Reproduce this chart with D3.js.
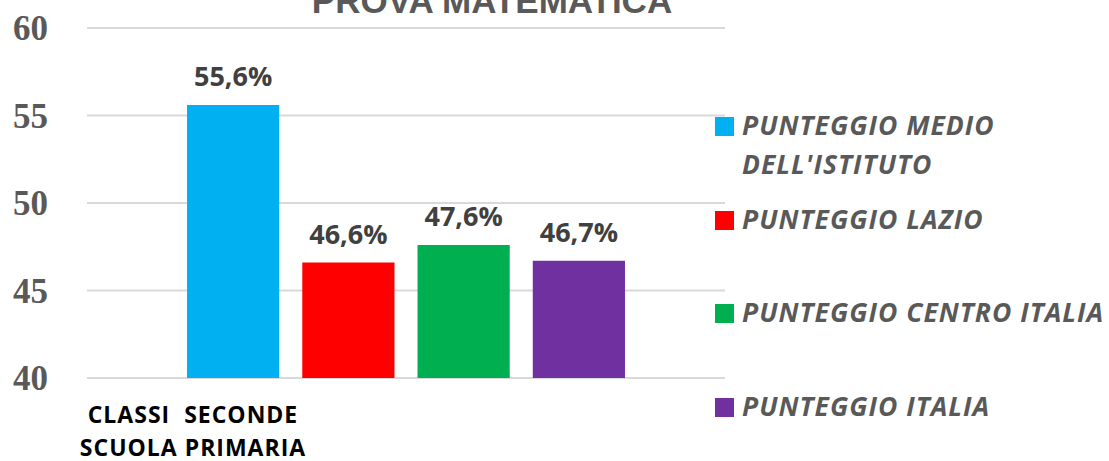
<!DOCTYPE html>
<html>
<head>
<meta charset="utf-8">
<script src="https://cdn.jsdelivr.net/npm/d3@7"></script>
<style>
  body { margin: 0; background: #fff; }
  svg { display: block; }
</style>
</head>
<body>
<div id="chart"></div>
<script>
var width = 1109, height = 461;

// data
var series = ["PUNTEGGIO MEDIO DELL'ISTITUTO", "PUNTEGGIO LAZIO", "PUNTEGGIO CENTRO ITALIA", "PUNTEGGIO ITALIA"];
var values = [55.6, 46.6, 47.6, 46.7];
var colors = ["#00B0F0", "#FF0000", "#00B050", "#7030A0"];
var valueLabels = ["55,6%", "46,6%", "47,6%", "46,7%"];
var yTicks = [40, 45, 50, 55, 60];
var categoryLines = ["CLASSI  SECONDE", "SCUOLA PRIMARIA"];
var legendLines = [["PUNTEGGIO MEDIO", "DELL'ISTITUTO"], ["PUNTEGGIO LAZIO"], ["PUNTEGGIO CENTRO ITALIA"], ["PUNTEGGIO ITALIA"]];
var title = "PROVA MATEMATICA";

var svg = d3.select("#chart")
  .append("svg")
  .attr("width", width)
  .attr("height", height);

var y = d3.scaleLinear()
  .domain([40, 60])
  .range([378, 28]);

var x = d3.scaleBand()
  .domain(series)
  .range([175.5, 636.5])
  .paddingInner(0.2)
  .paddingOuter(0.1);

// griglia
svg.append("g")
  .selectAll("line")
  .data(yTicks).enter()
  .append("line")
  .attr("x1", 87)
  .attr("x2", 725)
  .attr("y1", function(d) { return y(d); })
  .attr("y2", function(d) { return y(d); })
  .attr("stroke", "#d9d9d9")
  .attr("stroke-width", 2);

// asse y
var yAxis = svg.append("g")
  .attr("transform", "translate(48,0)")
  .call(d3.axisLeft(y).tickValues(yTicks).tickSize(0).tickPadding(0));
yAxis.select(".domain").remove();
yAxis.selectAll("text")
  .attr("dy", "0.33em")
  .style("font-family", "'Liberation Serif', serif")
  .style("font-weight", "bold")
  .style("font-size", "35px")
  .style("fill", "#595959");

// titolo
svg.append("text")
  .attr("x", 492)
  .attr("y", 13)
  .attr("text-anchor", "middle")
  .style("font-family", "'Liberation Sans', Arial, sans-serif")
  .style("font-weight", "bold")
  .style("font-size", "35px")
  .style("fill", "#595959")
  .text(title);

// barre
svg.selectAll(".bar")
  .data(values).enter()
  .append("rect")
  .attr("class", "bar")
  .attr("x", function(d, i) { return x(series[i]); })
  .attr("width", x.bandwidth())
  .attr("y", function(d) { return y(d); })
  .attr("height", function(d) { return y(40) - y(d); })
  .attr("fill", function(d, i) { return colors[i]; });

// etichette valori
svg.selectAll(".val")
  .data(values).enter()
  .append("text")
  .attr("class", "val")
  .attr("x", function(d, i) { return x(series[i]) + x.bandwidth() / 2; })
  .attr("y", function(d) { return y(d) - 19; })
  .attr("text-anchor", "middle")
  .style("font-family", "'Open Sans', sans-serif")
  .style("font-weight", "bold")
  .style("font-size", "27px")
  .style("fill", "#404040")
  .text(function(d, i) { return valueLabels[i]; });

// etichetta categoria
svg.append("text")
  .attr("x", 193)
  .attr("y", 423)
  .attr("text-anchor", "middle")
  .style("font-family", "'Open Sans', sans-serif")
  .style("font-weight", "bold")
  .style("font-size", "23px")
  .style("letter-spacing", "1px")
  .style("fill", "#000")
  .selectAll("tspan")
  .data(categoryLines).enter()
  .append("tspan")
  .attr("x", 193)
  .attr("dy", function(d, i) { return i === 0 ? 0 : 33; })
  .style("white-space", "pre")
  .text(function(d) { return d; });

// legenda
var legendY = [117, 211, 304, 398];
var legend = svg.selectAll(".legend")
  .data(series).enter()
  .append("g")
  .attr("class", "legend")
  .attr("transform", function(d, i) { return "translate(715," + legendY[i] + ")"; });

legend.append("rect")
  .attr("width", 19)
  .attr("height", 19)
  .attr("fill", function(d, i) { return colors[i]; });

legend.append("text")
  .attr("x", 27)
  .attr("y", 18)
  .style("font-family", "'Open Sans', sans-serif")
  .style("font-weight", "bold")
  .style("font-style", "italic")
  .style("font-size", "26.5px")
  .style("letter-spacing", "1px")
  .style("fill", "#595959")
  .selectAll("tspan")
  .data(function(d, i) { return legendLines[i]; }).enter()
  .append("tspan")
  .attr("x", 27)
  .attr("dy", function(d, i) { return i === 0 ? 0 : 39; })
  .text(function(d) { return d; });
</script>
</body>
</html>
